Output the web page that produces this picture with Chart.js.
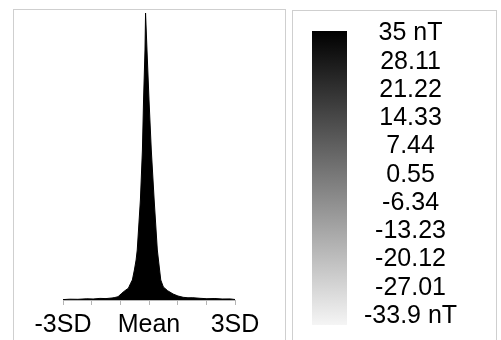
<!DOCTYPE html>
<html lang="en">
<head>
<meta charset="utf-8" />
<title>Anomaly distribution and colour scale</title>
<script src="https://cdn.jsdelivr.net/npm/chart.js@4.4.0/dist/chart.umd.min.js"></script>
<style>
  body { margin: 0; background: #fff; overflow: hidden; }
  .panel { position: absolute; border: 1px solid #cfcfcf; box-sizing: border-box; }
  #leftPanel { left: 13px; top: 9px; width: 273px; height: 340px; }
  #rightPanel { left: 292px; top: 10px; width: 205px; height: 340px; }
  canvas { position: absolute; }
  #hist { left: 0; top: 0; }
  #scale { left: 292px; top: -1px; }
</style>
</head>
<body>
  <div class="panel" id="leftPanel"></div>
  <div class="panel" id="rightPanel"></div>
  <canvas id="hist" width="290" height="345"></canvas>
  <canvas id="scale" width="205" height="358"></canvas>

<script>
  // histogram outline, x in standard deviations, height in % of peak
  const sdPos = [
    -3.00, -2.76, -2.48, -2.17, -1.95, -1.71, -1.50, -1.29, -1.19, -1.08,
    -0.95, -0.84, -0.72, -0.64, -0.58, -0.51, -0.45, -0.41, -0.30, -0.23,
    -0.19, -0.14, -0.12, -0.07, 0.00, 0.08, 0.18, 0.29, 0.37, 0.41,
    0.50, 0.65, 0.84, 1.01, 1.19, 1.36, 1.53, 1.78, 2.02, 2.30,
    2.55, 2.83, 3.00
  ];
  const density = [
    0.14, 0.28, 0.24, 0.42, 0.35, 0.56, 0.49, 0.70, 0.87, 1.15,
    2.33, 3.24, 4.08, 5.82, 6.97, 10.45, 13.94, 17.42, 34.84, 52.26,
    69.69, 87.11, 100, 87.11, 69.69, 52.26, 34.84, 17.42, 10.45, 6.97,
    4.53, 3.24, 2.09, 1.39, 0.94, 0.77, 0.80, 0.59, 0.45, 0.52,
    0.35, 0.38, 0.17
  ];
  const sdTicks = [-3, -2, -1, 0, 1, 2, 3];
  const sdTickLabels = ['-3SD', '', '', 'Mean', '', '', '3SD'];

  // colour scale (nT)
  const scaleValues = [35, 28.11, 21.22, 14.33, 7.44, 0.55, -6.34, -13.23, -20.12, -27.01, -33.9];
  const scaleLabels = ['35 nT', '28.11', '21.22', '14.33', '7.44', '0.55', '-6.34', '-13.23', '-20.12', '-27.01', '-33.9 nT'];
  const barRange = [-36.1, 35.61];

  const FONT = 'Liberation Sans, Arial, sans-serif';
  const AXIS_GREY = '#b5b5b5';

  new Chart(document.getElementById('hist'), {
    type: 'line',
    data: {
      datasets: [{
        data: sdPos.map((x, i) => ({ x: x, y: density[i] })),
        borderColor: '#000',
        backgroundColor: '#000',
        borderWidth: 1,
        pointRadius: 0,
        tension: 0,
        fill: 'origin'
      }]
    },
    options: {
      responsive: false,
      animation: false,
      layout: { padding: { left: 63, right: 55, top: 13, bottom: 0 } },
      plugins: { legend: { display: false }, tooltip: { enabled: false } },
      scales: {
        x: {
          type: 'linear',
          min: -3,
          max: 3,
          afterBuildTicks: (axis) => { axis.ticks = sdTicks.map(v => ({ value: v })); },
          border: { color: AXIS_GREY, width: 1 },
          grid: { drawOnChartArea: false, drawTicks: true, tickLength: 5, color: AXIS_GREY },
          ticks: {
            autoSkip: false,
            maxRotation: 0,
            padding: 5,
            color: '#000',
            font: { family: FONT, size: 25 },
            callback: (v) => sdTickLabels[sdTicks.indexOf(v)]
          }
        },
        y: { display: false, min: 0, max: 100 }
      }
    }
  });

  new Chart(document.getElementById('scale'), {
    type: 'bar',
    data: {
      labels: ['scale'],
      datasets: [{
        data: [barRange],
        borderWidth: 0,
        barPercentage: 1,
        categoryPercentage: 1,
        backgroundColor: (ctx) => {
          const area = ctx.chart.chartArea;
          if (!area) return '#000';
          const g = ctx.chart.ctx.createLinearGradient(0, area.top, 0, area.bottom);
          g.addColorStop(0, '#000');
          g.addColorStop(1, '#f5f5f5');
          return g;
        }
      }]
    },
    options: {
      responsive: false,
      animation: false,
      layout: { padding: { left: 20, right: 0, top: 0, bottom: 0 } },
      plugins: { legend: { display: false }, tooltip: { enabled: false } },
      scales: {
        x: { display: false },
        y: {
          position: 'right',
          min: barRange[0],
          max: barRange[1],
          afterBuildTicks: (axis) => { axis.ticks = scaleValues.map(v => ({ value: v })); },
          afterFit: (axis) => { axis.width = 150; },
          border: { display: false },
          grid: { display: false, drawTicks: false },
          ticks: {
            autoSkip: false,
            crossAlign: 'center',
            padding: 17,
            color: '#000',
            font: { family: FONT, size: 25 },
            callback: (v) => scaleLabels[scaleValues.indexOf(v)]
          }
        }
      }
    }
  });
</script>
</body>
</html>
